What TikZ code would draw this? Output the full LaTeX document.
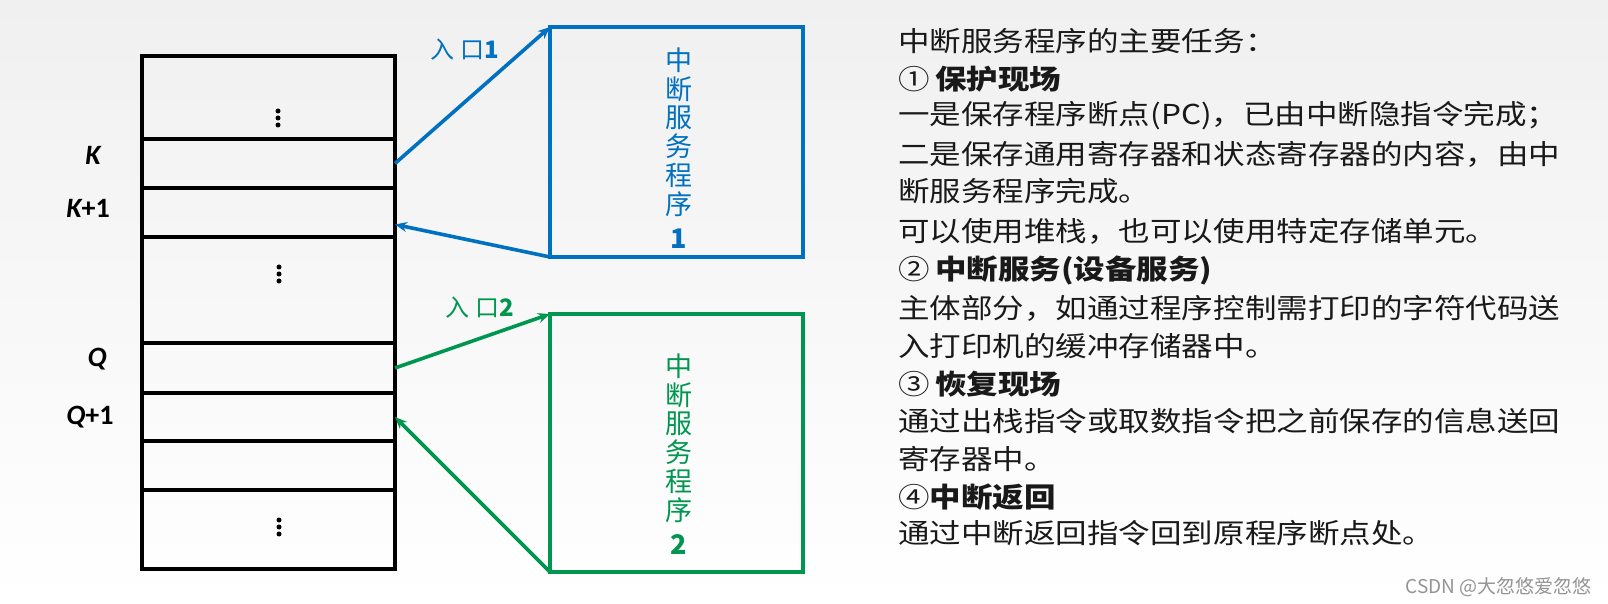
\documentclass[tikz,border=0pt]{standalone}
\usepackage{fontspec}
\setmainfont{Noto Sans CJK SC}
\newfontfamily\carl{Carlito}
\usepackage{graphicx}
\usetikzlibrary{arrows.meta,calc}
\definecolor{pblue}{RGB}{0,112,192}
\definecolor{pgreen}{RGB}{0,150,80}
\definecolor{bgtop}{RGB}{240,240,240}
\definecolor{txt}{RGB}{25,25,25}
\newcommand\hstr[1]{\scalebox{1.15}[1]{#1}}
\begin{document}
\begin{tikzpicture}[x=0.5pt,y=-0.5pt,
  cell/.style={draw=black, line width=1.6pt, minimum width=126.5pt, inner sep=0pt, outer sep=0pt},
  prog/.style={draw=#1, line width=1.8pt, minimum width=126.5pt, inner sep=0pt, outer sep=0pt},
  ptext/.style={text=#1, align=center, inner sep=0pt, font=\fontsize{13.5}{14.4}\selectfont},
  link/.style={draw=#1, line width=1.8pt, -{Stealth[length=6pt,width=5pt]}},
  entry/.style={text=#1, inner sep=0pt, font=\fontsize{12}{14}\selectfont},
  addr/.style={inner sep=0pt, font=\carl\bfseries\fontsize{14}{16}\selectfont},
  rtext/.style={anchor=west, inner sep=0pt, text=txt, font=\fontsize{13.7}{16}\selectfont},
  dot/.style={fill=black}
]
\useasboundingbox (0,0) rectangle (1608,604);
\shade[top color=bgtop, bottom color=white] (0,0) rectangle (1608,604);

% memory table
\node[cell, minimum height=41.5pt] (r1) at (268.5,97.5) {};
\node[cell, minimum height=24.5pt] (r2) at (268.5,163.5) {};
\node[cell, minimum height=24.5pt] (r3) at (268.5,212.5) {};
\node[cell, minimum height=53pt]   (r4) at (268.5,290) {};
\node[cell, minimum height=25pt]   (r5) at (268.5,368) {};
\node[cell, minimum height=24pt]   (r6) at (268.5,417) {};
\node[cell, minimum height=24.5pt] (r7) at (268.5,465.5) {};
\node[cell, minimum height=39.5pt] (r8) at (268.5,529.5) {};

\foreach \y in {111,118,125} \fill[dot] (278,\y) circle (2.5);
\foreach \y in {267,274,281} \fill[dot] (279,\y) circle (2.5);
\foreach \y in {520,527,534} \fill[dot] (279,\y) circle (2.5);

% address labels
\node[addr] (lk)  at (93,155)  {\itshape K};
\node[addr] (lk1) at (88,208)  {{\itshape K}+1};
\node[addr] (lq)  at (97,359)  {\itshape Q};
\node[addr] (lq1) at (90,417)  {{\itshape Q}+1};

% service routines
\node[prog=pblue,  minimum height=115pt] (b1) at (676.5,142) {};
\node[prog=pgreen, minimum height=129pt] (b2) at (676.5,443) {};
\node[ptext=pblue]  (b1t) at (679,148) {中\\断\\服\\务\\程\\序\\[2.7pt]\textbf{1}};
\node[ptext=pgreen] (b2t) at (679,454) {中\\断\\服\\务\\程\\序\\[2.7pt]\textbf{2}};

% connectors
\draw[link=pblue]  (r2.east) -- (b1.north west);
\draw[link=pblue]  (b1.south west) -- ([yshift=-6pt]r3.east);
\draw[link=pgreen] (r5.east) -- (b2.north west);
\draw[link=pgreen] (b2.south west) -- (r6.east);

\node[entry=pblue,  anchor=west] (e1) at (430,50)  {入\hspace{3pt}口\textbf{1}};
\node[entry=pgreen, anchor=west] (e2) at (445,308) {入\hspace{3pt}口\textbf{2}};

% right text
\node[rtext] (t1)  at (898,41)  {\hstr{中断服务程序的主要任务：}};
\node[rtext] (t2)  at (898,79)  {\hstr{①\,\textbf{保护现场}}};
\node[rtext] (t3)  at (898,116) {\hstr{一是保存程序断点(PC)，已由中断隐指令完成；}};
\node[rtext] (t4)  at (898,154) {\hstr{二是保存通用寄存器和状态寄存器的内容，由中}};
\node[rtext] (t5)  at (898,191) {\hstr{断服务程序完成。}};
\node[rtext] (t6)  at (898,231) {\hstr{可以使用堆栈，也可以使用特定存储单元。}};
\node[rtext] (t7)  at (898,270) {\hstr{②\,\textbf{中断服务(设备服务)}}};
\node[rtext] (t8)  at (898,308) {\hstr{主体部分，如通过程序控制需打印的字符代码送}};
\node[rtext] (t9)  at (898,346) {\hstr{入打印机的缓冲存储器中。}};
\node[rtext] (t10) at (898,384) {\hstr{③\,\textbf{恢复现场}}};
\node[rtext] (t11) at (898,421) {\hstr{通过出栈指令或取数指令把之前保存的信息送回}};
\node[rtext] (t12) at (898,459) {\hstr{寄存器中。}};
\node[rtext] (t13) at (898,497) {\hstr{④\textbf{中断返回}}};
\node[rtext] (t14) at (898,533) {\hstr{通过中断返回指令回到原程序断点处。}};

\node[anchor=east, inner sep=0pt, text=black!42, font=\fontsize{9.5}{11}\selectfont] (wm) at (1592,587) {CSDN @大忽悠爱忽悠};
\end{tikzpicture}
\end{document}
